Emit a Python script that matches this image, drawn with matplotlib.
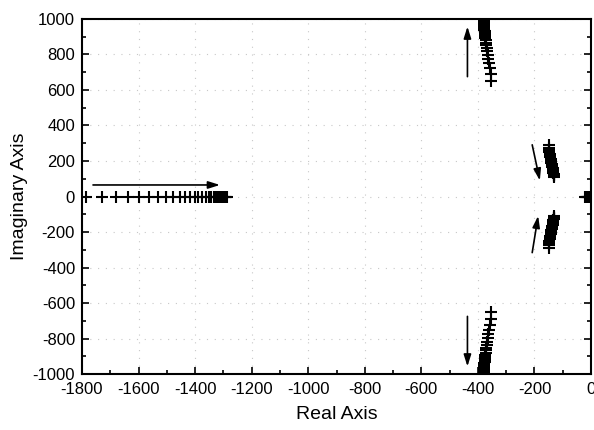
import numpy as np
import matplotlib.pyplot as plt
from matplotlib.ticker import MultipleLocator

plt.rcParams['font.family'] = ['Liberation Sans', 'DejaVu Sans']
plt.rcParams['axes.unicode_minus'] = False

# real-axis branch (poles moving right along the real axis)
real_x = [-1787, -1730, -1680, -1637, -1597, -1562, -1530, -1502, -1477, -1455,
          -1435, -1418, -1402, -1388, -1375, -1363, -1352, -1342, -1333, -1325,
          -1318, -1311, -1305, -1300, -1295, -1291, -1287]

# high-frequency complex pair (upper half, lower half is the conjugate)
hf_x = [-352, -355, -358, -361, -363, -365, -367, -369, -371, -372, -373, -374,
        -375, -375, -376, -376, -377, -377, -377, -378, -378, -378, -378, -379,
        -379, -379, -379, -379]
hf_y = [650, 688, 722, 750, 775, 797, 817, 835, 851, 866, 879, 891, 902, 912,
        921, 930, 938, 945, 952, 958, 964, 970, 975, 980, 985, 990, 994, 998]

# low-frequency complex pair (upper half)
lf_x = [-150, -149, -148, -147, -146, -145, -144, -143, -142, -141, -140, -139,
        -138, -138, -137, -136, -136, -135, -134, -134, -133, -133, -132, -132,
        -131, -131, -131]
lf_y = [290, 275, 262, 250, 240, 230, 221, 213, 205, 198, 191, 184, 178, 172,
        166, 160, 155, 150, 145, 140, 135, 131, 127, 123, 119, 115, 112]

# poles near the origin
org_x = [-22, -18, -14, -10, -6]

# direction arrows: (x0, y0, x1, y1)
arrows = [(-1761, 65, -1312, 65),
          (-437, 675, -437, 957),
          (-437, -675, -437, -957),
          (-208, 291, -181, 90),
          (-208, -316, -187, -109)]

fig, ax = plt.subplots(figsize=(5.94, 4.30), dpi=100)
fig.subplots_adjust(left=0.138, right=0.995, top=0.956, bottom=0.130)

mk = dict(marker='+', color='black', linestyle='none', markersize=8, markeredgewidth=1.5)

ax.plot(real_x, np.zeros(len(real_x)), **mk)
ax.plot(real_x[3:], np.zeros(len(real_x) - 3), color='black', lw=1.3)
ax.plot(hf_x, hf_y, **mk)
ax.plot(hf_x, -np.array(hf_y), **mk)
ax.plot(lf_x, lf_y, **mk)
ax.plot(lf_x, -np.array(lf_y), **mk)
ax.plot(org_x, np.zeros(len(org_x)), **mk)

for x0, y0, x1, y1 in arrows:
    ax.annotate('', xy=(x1, y1), xytext=(x0, y0),
                arrowprops=dict(arrowstyle='-|>,head_length=0.7,head_width=0.22',
                                color='black', lw=1.2, shrinkA=0, shrinkB=0))

ax.set_xlim(-1800, 0)
ax.set_ylim(-1000, 1000)
ax.xaxis.set_major_locator(MultipleLocator(200))
ax.xaxis.set_minor_locator(MultipleLocator(100))
ax.yaxis.set_major_locator(MultipleLocator(200))
ax.yaxis.set_minor_locator(MultipleLocator(100))
ax.tick_params(which='both', direction='in', right=True, labelsize=12, width=1.2)
ax.tick_params(which='major', length=5)
ax.tick_params(which='minor', length=3)
ax.tick_params(axis='x', pad=6)
ax.tick_params(axis='y', pad=5)
ax.grid(True, color='#c8c8c8', linestyle=(0, (1, 6)), linewidth=0.8)

for s in ax.spines.values():
    s.set_linewidth(1.5)

ax.set_xlabel('Real Axis', fontsize=14, labelpad=6)
ax.set_ylabel('Imaginary Axis', fontsize=14, labelpad=3)

fig.savefig('out.png', dpi=100)
